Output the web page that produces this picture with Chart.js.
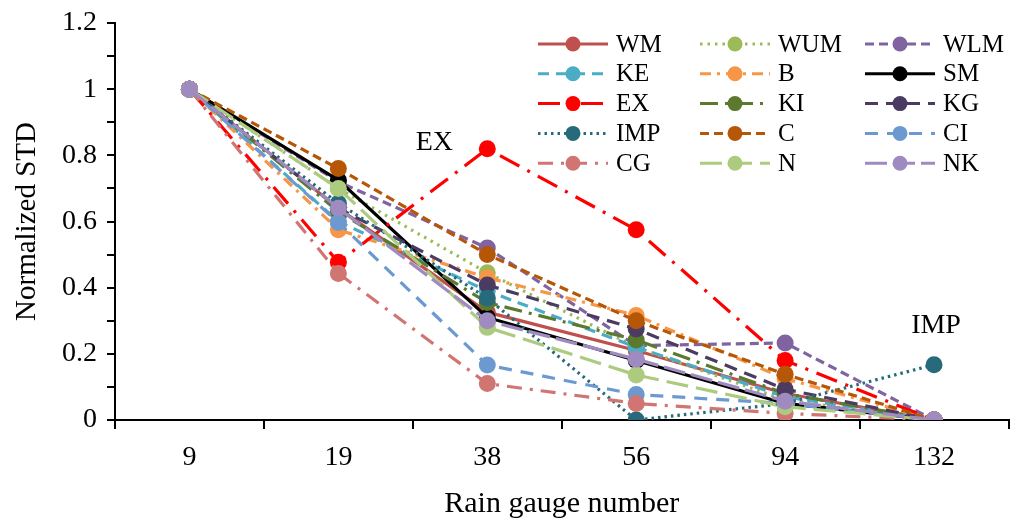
<!DOCTYPE html>
<html>
<head>
<meta charset="utf-8">
<script src="https://cdn.jsdelivr.net/npm/chart.js@4.4.0/dist/chart.umd.min.js"></script>
<style>
html,body{margin:0;padding:0;background:#fff;}
#wrap{width:1017px;height:524px;position:relative;}
</style>
</head>
<body>
<div id="wrap"><canvas id="c" width="1017" height="524"></canvas></div>
<script>
// ---- data ----
const categories = ['9', '19', '38', '56', '94', '132'];
const seriesNames = ['WM','WUM','WLM','KE','B','SM','EX','KI','KG','IMP','C','CI','CG','N','NK'];
const WM  = [1, 0.64, 0.326, 0.21, 0.08, 0];
const WUM = [1, 0.70, 0.445, 0.22, 0.06, 0];
const WLM = [1, 0.72, 0.52, 0.225, 0.233, 0];
const KE  = [1, 0.60, 0.39, 0.22, 0.07, 0];
const B   = [1, 0.575, 0.43, 0.316, 0.125, 0];
const SM  = [1, 0.725, 0.31, 0.18, 0.05, 0];
const EX  = [1, 0.477, 0.82, 0.575, 0.18, 0];
const KI  = [1, 0.63, 0.355, 0.242, 0.08, 0];
const KG  = [1, 0.64, 0.408, 0.275, 0.093, 0];
const IMP = [1, 0.655, 0.368, 0, 0.05, 0.167];
const C   = [1, 0.76, 0.50, 0.30, 0.138, 0];
const CI  = [1, 0.597, 0.166, 0.077, 0.05, 0];
const CG  = [1, 0.443, 0.11, 0.05, 0.02, 0];
const N   = [1, 0.70, 0.28, 0.136, 0.04, 0];
const NK  = [1, 0.64, 0.30, 0.184, 0.057, 0];
const yTicks = [0, 0.2, 0.4, 0.6, 0.8, 1, 1.2];
const annotations = [{text:'EX', series:'EX', index:2}, {text:'IMP', series:'IMP', index:5}];

// ---- styles ----
const values = {WM, WUM, WLM, KE, B, SM, EX, KI, KG, IMP, C, CI, CG, N, NK};
const styles = {
  WM:  {color:'#C0504D', dash:[]},
  WUM: {color:'#9BBB59', dash:[2.5,5]},
  WLM: {color:'#8064A2', dash:[9,5]},
  KE:  {color:'#4BACC6', dash:[11,7]},
  B:   {color:'#F79646', dash:[11,6,3,6]},
  SM:  {color:'#000000', dash:[]},
  EX:  {color:'#FF0000', dash:[22,9,3,9]},
  KI:  {color:'#5B7A2E', dash:[18,7,3,7]},
  KG:  {color:'#4B3B63', dash:[13,8]},
  IMP: {color:'#266A7B', dash:[2.5,4]},
  C:   {color:'#B65708', dash:[9,5]},
  CI:  {color:'#6C9AD0', dash:[13,9]},
  CG:  {color:'#D07572', dash:[15,8,3,8]},
  N:   {color:'#ADCB7E', dash:[22,8]},
  NK:  {color:'#9F8BC0', dash:[22,6]}
};
const FONT = "'Liberation Serif', 'Times New Roman', serif";

const datasets = seriesNames.map((n, i) => ({
  label: n,
  data: values[n],
  borderColor: styles[n].color,
  backgroundColor: styles[n].color,
  borderDash: styles[n].dash,
  borderWidth: 3.2,
  pointRadius: 8.5,
  pointHoverRadius: 8.5,
  pointBorderWidth: 0,
  pointBackgroundColor: styles[n].color,
  tension: 0,
  fill: false,
  order: seriesNames.length - i
}));

const legendPlugin = {
  id: 'customLegend',
  afterDraw(chart) {
    const ctx = chart.ctx;
    const colX = [538, 700, 865];
    ctx.save();
    chart.data.datasets.forEach((ds, i) => {
      const col = i % 3, row = Math.floor(i / 3);
      const x0 = colX[col], y = 44 + row * 29.8;
      ctx.strokeStyle = ds.borderColor;
      ctx.lineWidth = 3;
      ctx.setLineDash(ds.borderDash);
      ctx.beginPath(); ctx.moveTo(x0, y); ctx.lineTo(x0 + 70, y); ctx.stroke();
      ctx.setLineDash([]);
      ctx.fillStyle = ds.borderColor;
      ctx.beginPath(); ctx.arc(x0 + 35, y, 7.5, 0, Math.PI * 2); ctx.fill();
      ctx.fillStyle = '#000';
      ctx.font = '25px ' + FONT;
      ctx.textAlign = 'left'; ctx.textBaseline = 'middle';
      ctx.fillText(ds.label, x0 + 78, y + 1);
    });
    // annotations
    const xs = chart.scales.x, ys = chart.scales.y;
    ctx.font = '28px ' + FONT;
    ctx.fillStyle = '#000';
    ctx.textAlign = 'center'; ctx.textBaseline = 'middle';
    annotations.forEach(a => {
      const v = values[a.series][a.index];
      const px = xs.getPixelForValue(a.index), py = ys.getPixelForValue(v);
      if (a.text === 'EX') ctx.fillText(a.text, px - 53, py - 6);
      else ctx.fillText(a.text, px + 2, py - 39);
    });
    ctx.restore();
  }
};

new Chart(document.getElementById('c'), {
  type: 'line',
  data: { labels: categories, datasets },
  options: {
    responsive: false,
    animation: false,
    events: [],
    layout: { padding: { top: 23, right: 0, left: 0, bottom: 0 } },
    plugins: { legend: { display: false }, tooltip: { enabled: false } },
    scales: {
      x: {
        type: 'category',
        offset: true,
        grid: { display: true, offset: true, drawOnChartArea: false, drawTicks: true, tickLength: 9, color: '#000', lineWidth: 2 },
        border: { display: true, color: '#000', width: 2 },
        ticks: { color: '#000', font: { family: FONT, size: 28 }, padding: 12, maxRotation: 0, autoSkip: false },
        title: { display: true, text: 'Rain gauge number', color: '#000', font: { family: FONT, size: 30 }, padding: { top: 0, bottom: 2 } },
        afterFit: (s) => { s.height = 104; }
      },
      y: {
        min: 0, max: 1.2,
        grid: { display: true, drawOnChartArea: false, drawTicks: true, tickLength: 8, color: '#000', lineWidth: 2 },
        border: { display: true, color: '#000', width: 2 },
        ticks: {
          stepSize: 0.1, color: '#000', font: { family: FONT, size: 28, lineHeight: 0.7 }, padding: 10,
          callback: (v) => {
            const r = Math.round(v * 10) / 10;
            return yTicks.some(t => Math.abs(t - r) < 1e-9) ? String(r) : '';
          }
        },
        title: { display: true, text: 'Normalized STD', color: '#000', font: { family: FONT, size: 29 }, padding: { top: 10, bottom: 0 } },
        afterFit: (s) => { s.width = 115; }
      }
    }
  },
  plugins: [legendPlugin]
});
</script>
</body>
</html>
